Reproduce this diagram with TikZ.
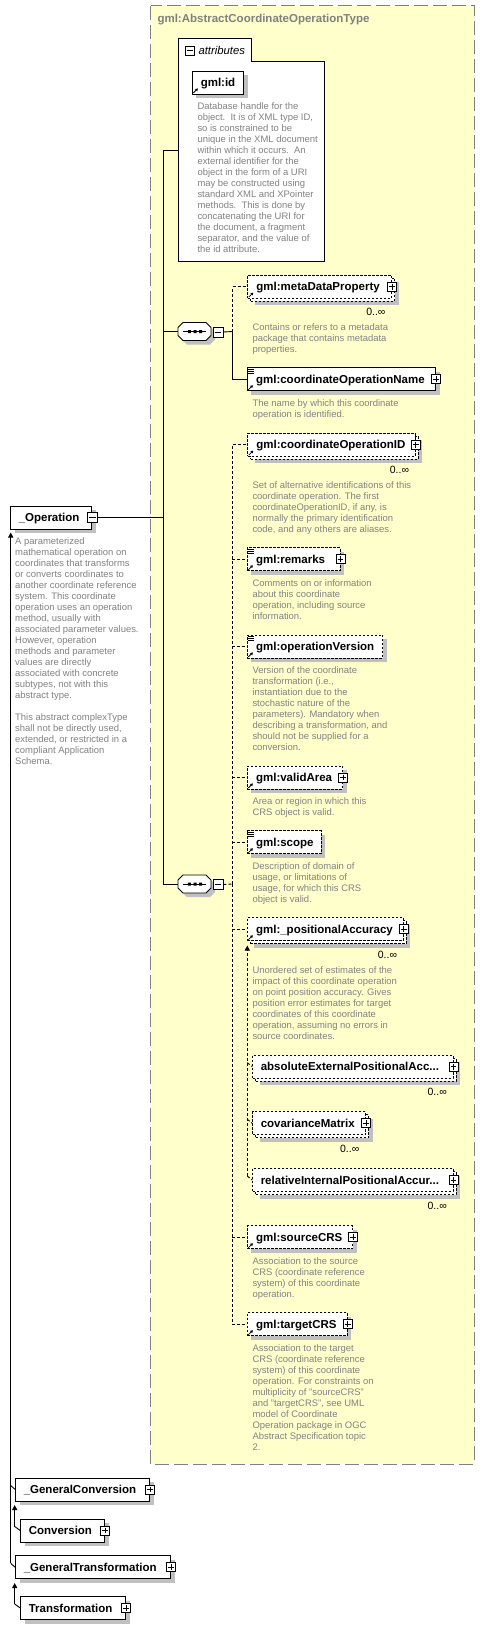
\documentclass[tikz,border=0pt]{standalone}
\usepackage{fontspec}
\setmainfont{Liberation Sans}
\usetikzlibrary{arrows.meta,fit,shadows,calc}
\definecolor{ybg}{RGB}{255,255,204}
\definecolor{ybd}{RGB}{128,128,128}
\definecolor{shd}{RGB}{192,192,192}
\definecolor{dsc}{RGB}{130,130,130}
\tikzset{
  elb/.style={draw, fill=white, line width=0.9pt, inner sep=0pt},
  dsh/.style={dash pattern=on 2.5pt off 1.5pt},
  shad/.style={drop shadow={shadow xshift=4pt, shadow yshift=-4pt, fill=shd, opacity=1}},
  lbl/.style={font=\fontsize{11.5}{13}\selectfont\bfseries, inner sep=0pt, anchor=base west},
  desc/.style={font=\fontsize{9.45}{11}\selectfont, text=dsc, align=left, inner sep=0pt, anchor=north west},
  mult/.style={font=\fontsize{10.5}{12}\selectfont, inner sep=0pt, anchor=base east},
  pm/.style={draw, fill=white, line width=0.8pt, minimum size=9pt, inner sep=0pt},
  conn/.style={line width=0.9pt},
  dconn/.style={line width=0.9pt, dash pattern=on 3pt off 2pt},
  inh/.style={line width=0.9pt, -{Triangle[length=5pt,width=5pt]}},
}
% #1 options, #2 name, #3 x1, #4 yc, #5 x2
\newcommand\ebox[5][]{\node[elb,#1,fit={(#3,#4-11.5) (#5,#4+11.5)}] (#2) {};}
% back box of a repeated element: #1 name, #2 x1, #3 yc, #4 x2
\newcommand\bbox[4]{\node[elb,dsh,shad,fit={(#2+3,#3-8.5) (#4+3,#3+14.5)}] (#1) {};}
\newcommand\lab[3][9pt]{\node[lbl] (#2l) at ($(#2.west)+(#1,-4pt)$) {#3};}
\newcommand\plusb[1]{\node[pm] (#1p) at (#1.east) {};
  \draw[line width=0.8pt] ([xshift=2pt]#1p.west) -- ([xshift=-2pt]#1p.east) ([yshift=-2pt]#1p.north) -- ([yshift=2pt]#1p.south);}
\newcommand\refic[1]{\draw[line width=0.8pt,-{Triangle[length=2.5pt,width=3pt]}] ([shift={(1.5pt,1.5pt)}]#1.south west) -- ++(4.5pt,4.5pt);}
\newcommand\docic[1]{\draw[line width=0.6pt] ([shift={(1.5pt,-1.5pt)}]#1.north west) -- ++(6pt,0pt) ([shift={(1.5pt,-3.5pt)}]#1.north west) -- ++(6pt,0pt) ([shift={(1.5pt,-5.5pt)}]#1.north west) -- ++(6pt,0pt);}
\newcommand\mlt[1]{\node[mult] (#1m) at ($(#1.east)+(-6.5pt,-29pt)$) {0..∞};}
\newcommand\dscr[4]{\node[desc] (#1) at (#2,#3-4.4) {#4};}
\newcommand\seqbox[2]{%
  \begin{scope}[shift={(178,#2)}]
    \fill[shd,shift={(4,4)}] (5,-9) -- (28,-9) -- (33,-4) -- (33,4) -- (28,9) -- (5,9) -- (0,4) -- (0,-4) -- cycle;
    \draw[fill=white,line width=0.9pt] (5,-9) -- (28,-9) -- (33,-4) -- (33,4) -- (28,9) -- (5,9) -- (0,4) -- (0,-4) -- cycle;
    \draw[line width=0.9pt] (5,0) -- (28,0);
    \fill (9.8,-1.5) rectangle ++(3,3) (15.5,-1.5) rectangle ++(3,3) (21.2,-1.5) rectangle ++(3,3);
  \end{scope}
  \node[inner sep=0pt, minimum width=33pt, minimum height=18pt] (#1) at (194.5,#2) {};
  \node[pm, minimum size=10pt] (#1p) at (218,#2+0.5) {};
  \draw[line width=0.8pt] ([xshift=2pt]#1p.west) -- ([xshift=-2pt]#1p.east);}

\begin{document}
\begin{tikzpicture}[x=1pt,y=-1pt]
\useasboundingbox (0,0) rectangle (485,1630);
\fill[white] (0,0) rectangle (485,1630);

% type container
\draw[fill=ybg, draw=ybd, line width=1pt, dash pattern=on 14pt off 5pt] (150.5,5.7) rectangle (474.3,1464);
\node[lbl, text=ybd] (title) at (157.3,23) {gml:AbstractCoordinateOperationType};

% connectors
\coordinate (trunk) at (163.3,517.5);
\coordinate (attrc) at (178.3,150.7);
\coordinate (j1) at (232.3,331.5);
\coordinate (j2) at (232.3,884);
\coordinate (patip) at (247.3,945.5);
\coordinate (abin) at (247.3,1062.7);
\coordinate (cmin) at (247.3,1119.3);
\coordinate (riin) at (247.3,1176);
\coordinate (optip) at (10.7,532.5);
\coordinate (gcin) at (10.7,1485.5);
\coordinate (gtin) at (10.7,1563.3);
\coordinate (cvtip) at (14.7,1505);
\coordinate (cvin) at (14.7,1526.5);
\coordinate (trtip) at (14.7,1583);
\coordinate (trin) at (14.7,1604);

% attributes
\draw[fill=white, line width=0.9pt] (178.3,261) -- (178.3,38.3) -- (251,38.3) -- (251,61.3) -- (324.3,61.3) -- (324.3,261) -- cycle;
\node[inner sep=0pt, fit={(178.3,38.3) (324.3,261)}] (attr) {};
\node[pm] (attrp) at (190.3,50.5) {};
\draw[line width=0.8pt] ([xshift=2pt]attrp.west) -- ([xshift=-2pt]attrp.east);
\node[lbl, font=\fontsize{11.3}{13}\selectfont\itshape] (attrl) at (198.3,54.5) {attributes};
\ebox[shad]{gid}{192.3}{82.5}{243.7}
\lab[8.7pt]{gid}{gml:id}
\refic{gid}
\dscr{giddesc}{197.3}{107}{Database handle for the\\object.\ \ It is of XML type ID,\\so is constrained to be\\unique in the XML document\\within which it occurs.\ \ An\\external identifier for the\\object in the form of a URI\\may be constructed using\\standard XML and XPointer\\methods.\ \ This is done by\\concatenating the URI for\\the document, a fragment\\separator, and the value of\\the id attribute.}

% sequence boxes
\seqbox{s1}{331.5}
\seqbox{s2}{884}

% elements
\bbox{mdb}{247.7}{286.7}{391.7}
\ebox[dsh]{md}{247.7}{286.7}{391.7}
\ebox[shad]{con}{247.3}{379.3}{435.7}
\bbox{cidb}{247.7}{444.7}{415.3}
\ebox[dsh]{cid}{247.7}{444.7}{415.3}
\ebox[dsh,shad]{rem}{247.3}{559.3}{340}
\ebox[dsh,shad]{ov}{247.3}{646.5}{382.7}
\ebox[dsh,shad]{va}{247.3}{777.5}{342.7}
\ebox[dsh,shad]{sc}{247.3}{842.3}{321}
\bbox{pab}{247.3}{929.3}{403.3}
\ebox[dsh]{pa}{247.3}{929.3}{403.3}
\bbox{abb}{252.7}{1066.7}{453}
\ebox[dsh]{ab}{252.7}{1066.7}{453}
\bbox{cmb}{252.7}{1123.3}{365.5}
\ebox[dsh]{cm}{252.7}{1123.3}{365.5}
\bbox{rib}{252.7}{1180}{453}
\ebox[dsh]{ri}{252.7}{1180}{453}
\ebox[dsh,shad]{src}{247.3}{1237.3}{352.7}
\ebox[dsh,shad]{tgt}{247.3}{1324.3}{347.3}

% left side
\ebox[shad]{op}{10.7}{517.5}{91.7}
\ebox[shad]{gc}{15.7}{1489.5}{149.7}
\ebox[shad]{cv}{20.7}{1530.5}{104.7}
\ebox[shad]{gt}{15.7}{1567.3}{170.7}
\ebox[shad]{tr}{20.7}{1608}{125.7}

% connector lines
\draw[conn] (attrc) -| (trunk);
\draw[conn] (trunk) |- (s2.west);
\draw[conn] (s1.west) -- (s1.west -| trunk);
\draw[conn] (s1p.east) -- (j1);
\draw[dconn] (j1) |- (md.west);
\draw[conn] (j1) |- (con.west);
\draw[dconn] (s2p.east) -- (j2);
\draw[dconn] (j2) |- (cid.west);
\draw[dconn] (j2) |- (tgt.west);
\draw[dconn] (rem.west -| j2) -- (rem.west);
\draw[dconn] (ov.west -| j2) -- (ov.west);
\draw[dconn] (va.west -| j2) -- (va.west);
\draw[dconn] (sc.west -| j2) -- (sc.west);
\draw[dconn] (pa.west -| j2) -- (pa.west);
\draw[dconn] (src.west -| j2) -- (src.west);
\draw[dconn, -{Triangle[length=5pt,width=5pt]}] (riin) -- (patip);
\draw[dconn] (abin) -- (ab.west);
\draw[dconn] (cmin) -- (cm.west);
\draw[dconn] (riin) -- (ri.west);
\draw[inh] (gtin) -- (optip);
\draw[conn] (gcin) -- (gc.west);
\draw[conn] (gtin) -- (gt.west);
\draw[inh] (cvin) -- (cvtip);
\draw[conn] (cvin) -- (cv.west);
\draw[inh] (trin) -- (trtip);
\draw[conn] (trin) -- (tr.west);

% labels, icons
\lab{md}{gml:metaDataProperty}\refic{md}\plusb{md}\mlt{md}
\lab{con}{gml:coordinateOperationName}\refic{con}\docic{con}\plusb{con}
\lab{cid}{gml:coordinateOperationID}\refic{cid}\plusb{cid}\mlt{cid}
\lab{rem}{gml:remarks}\refic{rem}\docic{rem}\plusb{rem}
\lab{ov}{gml:operationVersion}\refic{ov}\docic{ov}
\lab{va}{gml:validArea}\refic{va}\plusb{va}
\lab{sc}{gml:scope}\refic{sc}\docic{sc}
\lab{pa}{gml:\_positionalAccuracy}\refic{pa}\plusb{pa}\mlt{pa}
\lab[8.3pt]{ab}{absoluteExternalPositionalAcc...}\plusb{ab}\mlt{ab}
\lab[8.3pt]{cm}{covarianceMatrix}\plusb{cm}\mlt{cm}
\lab[8.3pt]{ri}{relativeInternalPositionalAccur...}\plusb{ri}\mlt{ri}
\lab{src}{gml:sourceCRS}\refic{src}\plusb{src}
\lab{tgt}{gml:targetCRS}\refic{tgt}\plusb{tgt}

\lab[8.3pt]{op}{\_Operation}
\node[pm, minimum size=10pt] (opp) at (op.east) {};
\draw[line width=0.8pt] ([xshift=2pt]opp.west) -- ([xshift=-2pt]opp.east);
\draw[conn] (opp.east) -- (trunk);
\lab[8.3pt]{gc}{\_GeneralConversion}\plusb{gc}
\lab[8.3pt]{cv}{Conversion}\plusb{cv}
\lab[8.3pt]{gt}{\_GeneralTransformation}\plusb{gt}
\lab[8.3pt]{tr}{Transformation}\plusb{tr}

% descriptions
\dscr{mddesc}{252.3}{327.7}{Contains or refers to a metadata\\package that contains metadata\\properties.}
\dscr{condesc}{252.3}{404}{The name by which this coordinate\\operation is identified.}
\dscr{ciddesc}{252.3}{485.7}{Set of alternative identifications of this\\coordinate operation. The first\\coordinateOperationID, if any, is\\normally the primary identification\\code, and any others are aliases.}
\dscr{remdesc}{252.3}{583.7}{Comments on or information\\about this coordinate\\operation, including source\\information.}
\dscr{ovdesc}{252.3}{670.7}{Version of the coordinate\\transformation (i.e.,\\instantiation due to the\\stochastic nature of the\\parameters). Mandatory when\\describing a transformation, and\\should not be supplied for a\\conversion.}
\dscr{vadesc}{252.3}{801.7}{Area or region in which this\\CRS object is valid.}
\dscr{scdesc}{252.3}{866.7}{Description of domain of\\usage, or limitations of\\usage, for which this CRS\\object is valid.}
\dscr{padesc}{252.3}{970.7}{Unordered set of estimates of the\\impact of this coordinate operation\\on point position accuracy. Gives\\position error estimates for target\\coordinates of this coordinate\\operation, assuming no errors in\\source coordinates.}
\dscr{srcdesc}{252.3}{1261.7}{Association to the source\\CRS (coordinate reference\\system) of this coordinate\\operation.}
\dscr{tgtdesc}{252.3}{1348.7}{Association to the target\\CRS (coordinate reference\\system) of this coordinate\\operation. For constraints on\\multiplicity of "sourceCRS"\\and "targetCRS", see UML\\model of Coordinate\\Operation package in OGC\\Abstract Specification topic\\2.}
\dscr{opdesc}{15}{541.7}{A parameterized\\mathematical operation on\\coordinates that transforms\\or converts coordinates to\\another coordinate reference\\system. This coordinate\\operation uses an operation\\method, usually with\\associated parameter values.\\However, operation\\methods and parameter\\values are directly\\associated with concrete\\subtypes, not with this\\abstract type.\\[11pt]This abstract complexType\\shall not be directly used,\\extended, or restricted in a\\compliant Application\\Schema.}
\end{tikzpicture}
\end{document}
